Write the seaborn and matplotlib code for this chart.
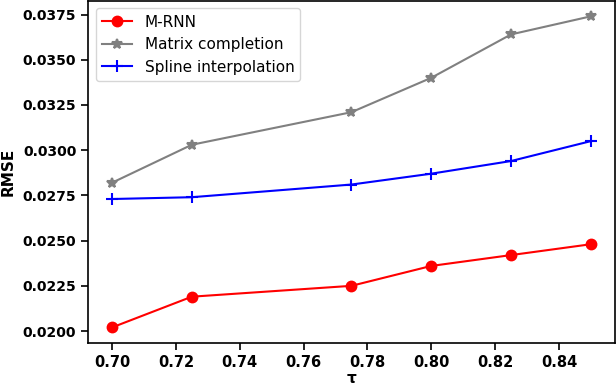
import matplotlib
matplotlib.use("Agg")
import matplotlib.pyplot as plt
import seaborn as sns
import pandas as pd

x_vals = [0.70, 0.725, 0.775, 0.80, 0.825, 0.85]
mrnn = [0.0202, 0.0219, 0.0225, 0.0236, 0.0242, 0.0248]
matrix_completion = [0.0282, 0.0303, 0.0321, 0.0340, 0.0364, 0.0374]
spline = [0.0273, 0.0274, 0.0281, 0.0287, 0.0294, 0.0305]
series_names = ["M-RNN", "Matrix completion", "Spline interpolation"]

df = pd.concat([
    pd.DataFrame({"tau": x_vals, "RMSE": mrnn, "method": series_names[0]}),
    pd.DataFrame({"tau": x_vals, "RMSE": matrix_completion, "method": series_names[1]}),
    pd.DataFrame({"tau": x_vals, "RMSE": spline, "method": series_names[2]}),
])

plt.rcParams["font.size"] = 11
fig, ax = plt.subplots(figsize=(6.16, 3.88), dpi=100)
palette = {series_names[0]: "red", series_names[1]: "gray", series_names[2]: "blue"}
markers = {series_names[0]: "o", series_names[1]: "*", series_names[2]: "+"}
sizes = {series_names[0]: 7, series_names[1]: 7.5, series_names[2]: 9}
for name in series_names:
    sub = df[df["method"] == name]
    sns.lineplot(data=sub, x="tau", y="RMSE", color=palette[name], marker=markers[name],
                 markersize=sizes[name], markeredgecolor=palette[name],
                 markeredgewidth=1.5, label=name, ax=ax, linewidth=1.5)

xt = [0.70, 0.72, 0.74, 0.76, 0.78, 0.80, 0.82, 0.84]
ax.set_xticks(xt)
ax.set_xticklabels([f"{v:.2f}" for v in xt], fontweight="bold", fontsize=10.5)
yt = [0.0200, 0.0225, 0.0250, 0.0275, 0.0300, 0.0325, 0.0350, 0.0375]
ax.set_yticks(yt)
ax.set_yticklabels([f"{v:.4f}" for v in yt], fontweight="bold", fontsize=10)
ax.tick_params(length=5, width=1.2)
for s in ax.spines.values():
    s.set_linewidth(1.2)
ax.set_xlabel("τ", fontweight="bold", fontsize=11, labelpad=1)
ax.set_ylabel("RMSE", fontweight="bold", fontsize=11, labelpad=5)
ax.legend(loc="upper left")
fig.subplots_adjust(left=0.143, right=0.998, bottom=0.116, top=0.998)
fig.savefig("out.png", dpi=100)
